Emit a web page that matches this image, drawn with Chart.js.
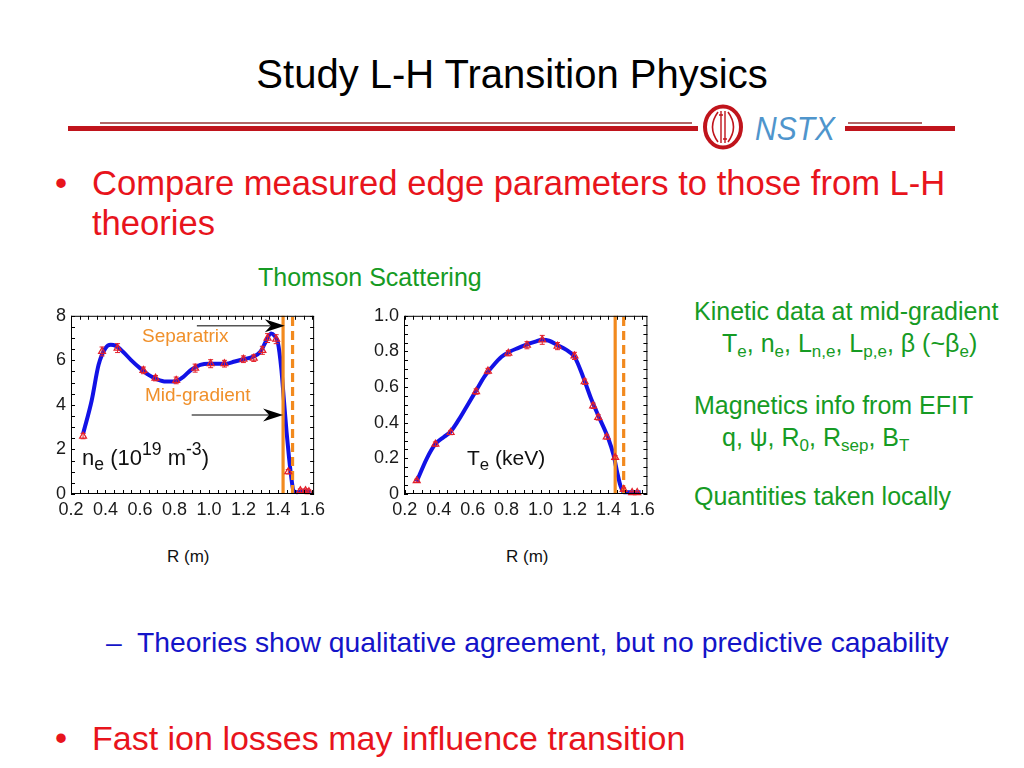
<!DOCTYPE html>
<html>
<head>
<meta charset="utf-8">
<title>Study L-H Transition Physics</title>
<script src="https://cdn.jsdelivr.net/npm/chart.js@4.4.1/dist/chart.umd.min.js"></script>
<style>
  body { margin: 0; background: #fff; font-family: "Liberation Sans", Arial, sans-serif; }
  #page { position: relative; width: 1024px; height: 768px; overflow: hidden; }
  .t { position: absolute; white-space: nowrap; line-height: 1; }
  .t sub { font-size: 0.68em; position: relative; top: 0.28em; vertical-align: baseline; line-height: 0; }
  .t sup { font-size: 0.68em; position: relative; top: -0.55em; vertical-align: baseline; line-height: 0; }
  .lbl sub, .lbl sup { font-size: 0.8em; }
  canvas { position: absolute; }
  .red { color: #e8141c; }
  .green { color: #169b24; }
  .blue { color: #1414c8; }
  .orange { color: #f0902a; }
  .bar { position: absolute; }
</style>
</head>
<body>
<div id="page">
  <div class="t" style="left:0;width:1024px;text-align:center;top:54px;font-size:40px;color:#000">Study L-H Transition Physics</div>

  <!-- header rule and logo -->
  <div class="bar" style="left:68px;top:126px;width:630px;height:5px;background:#c0141c"></div>
  <div class="bar" style="left:100px;top:122px;width:592px;height:2px;background:#b46666"></div>
  <div class="bar" style="left:845px;top:126px;width:110px;height:5px;background:#c0141c"></div>
  <div class="bar" style="left:848px;top:122px;width:74px;height:2px;background:#b46666"></div>
  <svg style="position:absolute;left:698px;top:102px" width="52" height="52">
    <ellipse cx="25" cy="25" rx="18" ry="20.5" fill="#fff" stroke="#c0141c" stroke-width="4"/>
    <path d="M20 10 Q9 25 20 40 M30 10 Q41 25 30 40" fill="none" stroke="#c0141c" stroke-width="1.6"/>
    <path d="M23 9 L23 41 M27 9 L27 41 M21 13 L25 13 M25 37 L29 37" fill="none" stroke="#c0141c" stroke-width="1.4"/>
  </svg>
  <div class="t" style="left:755px;top:112px;font-size:30px;font-style:italic;color:#4f95cc;transform:scaleY(1.1);transform-origin:left top">NSTX</div>

  <div class="t red" style="left:55px;top:166px;font-size:34.5px">•</div>
  <div class="t red" style="left:92px;top:166px;font-size:34.6px">Compare measured edge parameters to those from L-H</div>
  <div class="t red" style="left:92px;top:206px;font-size:34.6px">theories</div>

  <div class="t green" style="left:258px;top:265px;font-size:25px">Thomson Scattering</div>

  <div class="t green" style="left:694px;top:299px;font-size:25px">Kinetic data at mid-gradient</div>
  <div class="t green" style="left:722px;top:331px;font-size:25px">T<sub>e</sub>, n<sub>e</sub>, L<sub>n,e</sub>, L<sub>p,e</sub>, β (~β<sub>e</sub>)</div>
  <div class="t green" style="left:694px;top:393px;font-size:25px">Magnetics info from EFIT</div>
  <div class="t green" style="left:722px;top:425px;font-size:25px">q, ψ, R<sub>0</sub>, R<sub>sep</sub>, B<sub>T</sub></div>
  <div class="t green" style="left:694px;top:484px;font-size:25px">Quantities taken locally</div>

  <canvas id="neChart" width="300" height="230" style="left:30px;top:300px"></canvas>
  <canvas id="teChart" width="304" height="230" style="left:356px;top:300px"></canvas>

  <div class="t orange" style="left:142px;top:326px;font-size:19px">Separatrix</div>
  <div class="t orange" style="left:145px;top:385px;font-size:19px">Mid-gradient</div>
  <div class="t lbl" style="left:82px;top:447px;font-size:22px;color:#111">n<sub>e</sub> (10<sup>19</sup> m<sup>-3</sup>)</div>
  <div class="t lbl" style="left:467px;top:447px;font-size:21px;color:#111">T<sub>e</sub> (keV)</div>

  <div class="t" style="left:167px;top:548px;font-size:17px;color:#111">R (m)</div>
  <div class="t" style="left:506px;top:548px;font-size:17px;color:#111">R (m)</div>

  <div class="t blue" style="left:106px;top:628px;font-size:28.3px">–</div>
  <div class="t blue" style="left:137px;top:628px;font-size:28.3px">Theories show qualitative agreement, but no predictive capability</div>

  <div class="t red" style="left:55px;top:721px;font-size:34.5px">•</div>
  <div class="t red" style="left:92px;top:721px;font-size:34px">Fast ion losses may influence transition</div>
</div>

<script>
// Thomson scattering channels, density profile (10^19 m^-3)
const neR   = [0.27, 0.38, 0.47, 0.62, 0.69, 0.81, 0.92, 1.01, 1.09, 1.20, 1.26, 1.31, 1.34, 1.39, 1.46, 1.53, 1.56, 1.58];
const neVal = [2.6, 6.4, 6.55, 5.55, 5.2, 5.1, 5.65, 5.85, 5.85, 6.05, 6.1, 6.45, 7.0, 6.95, 1.0, 0.15, 0.15, 0.1];
const neErr = [0.12, 0.2, 0.2, 0.15, 0.12, 0.15, 0.18, 0.18, 0.15, 0.15, 0.15, 0.18, 0.2, 0.2, 0.1, 0.08, 0.08, 0.08];

// fitted density curve
const neFitR = [0.27, 0.32, 0.36, 0.40, 0.43, 0.46, 0.50, 0.55, 0.60, 0.65, 0.70, 0.75, 0.80, 0.85, 0.90, 0.95, 1.00, 1.05, 1.10, 1.15, 1.20, 1.25, 1.30, 1.33, 1.36, 1.38, 1.40, 1.42, 1.435, 1.45, 1.465, 1.48, 1.49, 1.51, 1.55, 1.59];
const neFit  = [2.7, 4.2, 5.8, 6.55, 6.7, 6.65, 6.4, 6.0, 5.65, 5.35, 5.15, 5.05, 5.05, 5.25, 5.6, 5.8, 5.85, 5.85, 5.85, 5.95, 6.05, 6.15, 6.4, 6.85, 7.2, 7.1, 6.8, 5.6, 4.2, 2.8, 1.6, 0.6, 0.15, 0.08, 0.12, 0.1];

// electron temperature (keV)
const teR   = [0.27, 0.38, 0.47, 0.62, 0.69, 0.81, 0.92, 1.01, 1.10, 1.20, 1.26, 1.31, 1.34, 1.39, 1.44, 1.49, 1.54, 1.57];
const teVal = [0.075, 0.28, 0.345, 0.575, 0.69, 0.79, 0.835, 0.865, 0.83, 0.775, 0.63, 0.495, 0.43, 0.32, 0.205, 0.026, 0.008, 0.008];
const teErr = [0.008, 0.012, 0.012, 0.015, 0.015, 0.015, 0.02, 0.025, 0.02, 0.02, 0.015, 0.015, 0.015, 0.012, 0.01, 0.008, 0.005, 0.005];

const teFitR = [0.27, 0.33, 0.38, 0.43, 0.47, 0.52, 0.57, 0.62, 0.67, 0.72, 0.77, 0.82, 0.87, 0.92, 0.97, 1.01, 1.05, 1.10, 1.15, 1.20, 1.25, 1.30, 1.35, 1.40, 1.43, 1.45, 1.47, 1.49, 1.55, 1.59];
const teFit  = [0.07, 0.2, 0.28, 0.32, 0.35, 0.42, 0.5, 0.58, 0.66, 0.72, 0.77, 0.8, 0.82, 0.84, 0.855, 0.865, 0.86, 0.835, 0.81, 0.77, 0.66, 0.53, 0.42, 0.31, 0.22, 0.13, 0.05, 0.01, 0.01, 0.01];

// mid-gradient (solid) and separatrix (dashed) radii
const neMidR = 1.43, neSepR = 1.485;
const teMidR = 1.44, teSepR = 1.49;

// arrows on the density plot: start R, end R, level
const arrowFrom = [0.93, 0.90];
const arrowTo   = [1.44, 1.43];
const arrowY    = [7.55, 3.55];

const xTicks   = [0.2, 0.4, 0.6, 0.8, 1.0, 1.2, 1.4, 1.6];
const neYTicks = [0, 2, 4, 6, 8];
const teYTicks = [0, 0.2, 0.4, 0.6, 0.8, 1.0];

const toXY = (xs, ys) => xs.map((x, i) => ({x: x, y: ys[i]}));
const FONT = "'Liberation Sans', Arial, sans-serif";
const BLUE = '#1212e6', RED = '#e4202a', ORANGE = '#f28a1e';

// box around the plot with small inward ticks
const frameTicks = {
    id: 'frameTicks',
    afterDraw(chart, args, opts) {
        const ctx = chart.ctx, a = chart.chartArea, x = chart.scales.x, y = chart.scales.y;
        ctx.save();
        ctx.strokeStyle = '#000';
        ctx.lineWidth = 1;
        ctx.beginPath();
        for (let v = opts.xStart; v <= x.max + 1e-9; v += opts.xStep) {
            const px = Math.round(x.getPixelForValue(v)) + 0.5;
            ctx.moveTo(px, a.bottom); ctx.lineTo(px, a.bottom - 4);
            ctx.moveTo(px, a.top); ctx.lineTo(px, a.top + 4);
        }
        for (let v = y.min; v <= y.max + 1e-9; v += opts.yStep) {
            const py = Math.round(y.getPixelForValue(v)) + 0.5;
            ctx.moveTo(a.left, py); ctx.lineTo(a.left + 4, py);
            ctx.moveTo(a.right, py); ctx.lineTo(a.right - 4, py);
        }
        ctx.stroke();
        ctx.strokeRect(a.left + 0.5, a.top + 0.5, a.right - a.left - 1, a.bottom - a.top - 1);
        ctx.restore();
    }
};

const errorBars = {
    id: 'errorBars',
    afterDatasetsDraw(chart) {
        const ctx = chart.ctx, yS = chart.scales.y;
        chart.data.datasets.forEach((ds, i) => {
            if (!ds.errors) return;
            const meta = chart.getDatasetMeta(i);
            ctx.save();
            ctx.strokeStyle = ds.borderColor;
            ctx.lineWidth = 1;
            ctx.beginPath();
            meta.data.forEach((pt, j) => {
                const v = ds.data[j].y, e = ds.errors[j];
                const top = yS.getPixelForValue(v + e), bot = yS.getPixelForValue(v - e);
                ctx.moveTo(pt.x, top); ctx.lineTo(pt.x, bot);
                ctx.moveTo(pt.x - 2.5, top); ctx.lineTo(pt.x + 2.5, top);
                ctx.moveTo(pt.x - 2.5, bot); ctx.lineTo(pt.x + 2.5, bot);
            });
            ctx.stroke();
            ctx.restore();
        });
    }
};

const arrows = {
    id: 'arrows',
    afterDatasetsDraw(chart, args, opts) {
        if (!opts.from) return;
        const ctx = chart.ctx, x = chart.scales.x, y = chart.scales.y;
        ctx.save();
        opts.from.forEach((x0v, i) => {
            const x0 = x.getPixelForValue(x0v), x1 = x.getPixelForValue(opts.to[i]), py = y.getPixelForValue(opts.y[i]);
            ctx.strokeStyle = '#555';
            ctx.lineWidth = 1.5;
            ctx.beginPath(); ctx.moveTo(x0, py); ctx.lineTo(x1 - 14, py); ctx.stroke();
            ctx.fillStyle = '#000';
            ctx.beginPath();
            ctx.moveTo(x1, py);
            ctx.lineTo(x1 - 20, py - 6.5);
            ctx.lineTo(x1 - 14, py);
            ctx.lineTo(x1 - 20, py + 6.5);
            ctx.closePath();
            ctx.fill();
        });
        ctx.restore();
    }
};

function makeChart(id, o) {
    const ctx = document.getElementById(id).getContext('2d');
    return new Chart(ctx, {
        type: 'scatter',
        data: {
            datasets: [{
                label: 'measured',
                data: toXY(o.r, o.val),
                errors: o.err,
                showLine: false,
                pointStyle: 'triangle',
                pointRadius: 4,
                borderColor: RED,
                backgroundColor: 'rgba(255,255,255,0)',
                borderWidth: 1.2,
                order: 0
            }, {
                label: 'mid-gradient',
                data: [{x: o.midR, y: o.yMin}, {x: o.midR, y: o.yMax}],
                showLine: true,
                borderColor: ORANGE,
                borderWidth: 3.2,
                pointRadius: 0,
                order: 1
            }, {
                label: 'separatrix',
                data: [{x: o.sepR, y: o.yMin}, {x: o.sepR, y: o.yMax}],
                showLine: true,
                borderColor: ORANGE,
                borderWidth: 3.2,
                borderDash: [9, 5],
                pointRadius: 0,
                order: 1
            }, {
                label: 'fit',
                data: toXY(o.fitR, o.fit),
                showLine: true,
                borderColor: BLUE,
                borderWidth: 4,
                pointRadius: 0,
                cubicInterpolationMode: 'monotone',
                order: 2
            }]
        },
        options: {
            responsive: false,
            animation: false,
            clip: false,
            layout: { padding: { top: 11, right: o.padRight, left: 0, bottom: 0 } },
            plugins: {
                legend: { display: false },
                tooltip: { enabled: false },
                frameTicks: { xStart: 0.2, xStep: 0.05, yStep: o.yMinor },
                arrows: o.arrows || {}
            },
            scales: {
                x: {
                    type: 'linear',
                    min: o.xMin,
                    max: o.xMax,
                    grid: { display: false, drawTicks: false, tickLength: 0 },
                    border: { display: false },
                    afterBuildTicks: s => { s.ticks = xTicks.map(v => ({value: v})); },
                    afterFit: s => { s.height = 36; },
                    ticks: {
                        padding: 5,
                        color: '#1a1a1a',
                        font: { family: FONT, size: 18 },
                        maxRotation: 0,
                        autoSkip: false,
                        callback: v => v.toFixed(1)
                    }
                },
                y: {
                    min: o.yMin,
                    max: o.yMax,
                    grid: { display: false, drawTicks: false, tickLength: 0 },
                    border: { display: false },
                    afterBuildTicks: s => { s.ticks = o.yTicks.map(v => ({value: v})); },
                    afterFit: s => { s.width = o.yWidth; },
                    ticks: {
                        padding: 5,
                        color: '#1a1a1a',
                        font: { family: FONT, size: 18 },
                        callback: o.yLabel
                    }
                }
            }
        },
        plugins: [errorBars, arrows, frameTicks]
    });
}

makeChart('neChart', {
    r: neR, val: neVal, err: neErr, fitR: neFitR, fit: neFit,
    midR: neMidR, sepR: neSepR,
    xMin: 0.2, xMax: 1.61, yMin: 0, yMax: 8, yTicks: neYTicks, yMinor: 0.5,
    yWidth: 41, padRight: 14,
    yLabel: v => String(v),
    arrows: { from: arrowFrom, to: arrowTo, y: arrowY }
});

makeChart('teChart', {
    r: teR, val: teVal, err: teErr, fitR: teFitR, fit: teFit,
    midR: teMidR, sepR: teSepR,
    xMin: 0.195, xMax: 1.63, yMin: 0, yMax: 1, yTicks: teYTicks, yMinor: 0.05,
    yWidth: 48, padRight: 8,
    yLabel: v => v === 0 ? '0' : v.toFixed(1)
});
</script>
</body>
</html>
